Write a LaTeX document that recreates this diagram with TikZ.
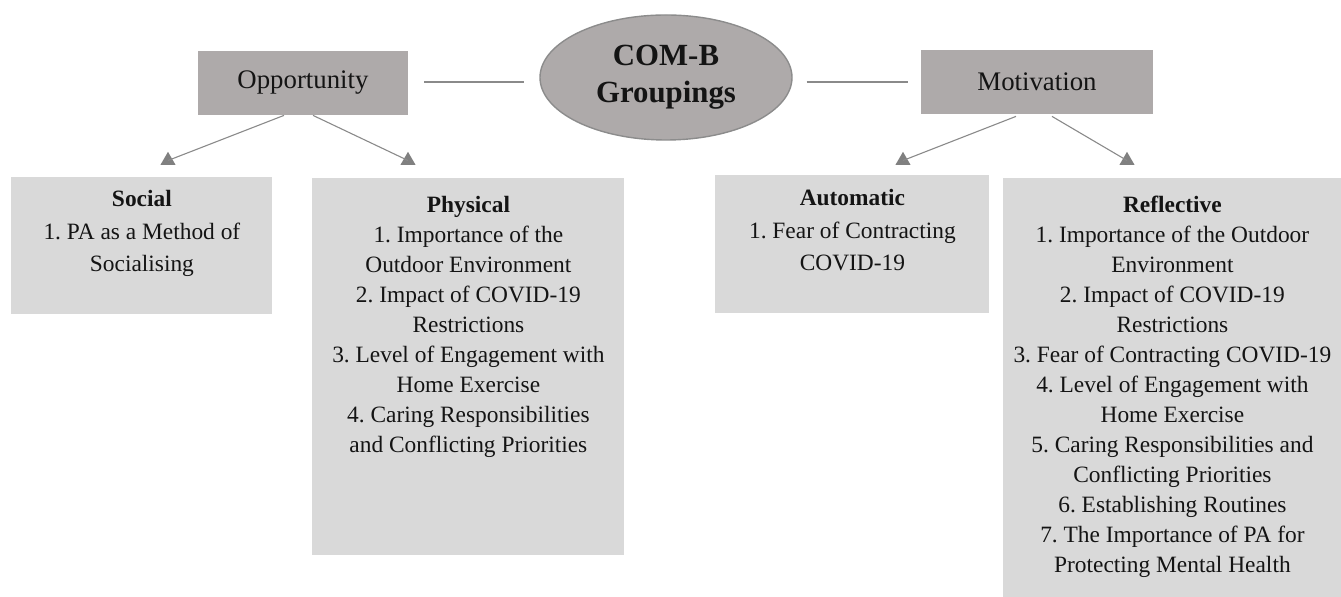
\documentclass[tikz,border=0pt]{standalone}
\usepackage{fontspec}
\setmainfont{Liberation Serif}
\frenchspacing
\usetikzlibrary{shapes.geometric}
\definecolor{darkbox}{HTML}{AEAAAA}
\definecolor{lightbox}{HTML}{D9D9D9}
\definecolor{linegray}{HTML}{8A8A8A}
\definecolor{tipgray}{HTML}{808080}
\definecolor{ellborder}{HTML}{8C8C8C}
\definecolor{txt}{HTML}{141414}
\begin{document}
\begin{tikzpicture}[x=0.5pt,y=-0.5pt,
 topbox/.style={rectangle, fill=darkbox, inner sep=0pt, font=\fontsize{13.4}{15}\selectfont, text=txt},
 hub/.style={ellipse, fill=darkbox, draw=ellborder, line width=0.7pt, inner sep=0pt,
   minimum width=126pt, minimum height=62.5pt, align=center,
   font=\fontsize{15.4}{18.5}\selectfont\bfseries, text=txt},
 subbox/.style={rectangle, fill=lightbox, inner sep=0pt, anchor=north west},
 subtext/.style={anchor=north, align=center, inner sep=0pt, font=\fontsize{11.7}{15}\selectfont\frenchspacing, text=txt},
 subtextloose/.style={subtext, font=\fontsize{11.7}{16.3}\selectfont\frenchspacing},
 link/.style={draw=linegray, line width=0.55pt},
 tip/.style={regular polygon, regular polygon sides=3, fill=tipgray, inner sep=0pt, minimum size=8.7pt},
]
\useasboundingbox (0,0) rectangle (1341,597);

% top level
\node[topbox, minimum width=105pt, minimum height=32pt] (opp) at (303,83) {Opportunity};
\node[topbox, minimum width=116pt, minimum height=32pt] (mot) at (1037,82) {Motivation};
\node[hub] (hub) at (666,77.5) {COM-B\\Groupings};

\draw[link, shorten <=8pt, shorten >=7.5pt] ([yshift=0.5pt]opp.east) -- ([yshift=0.5pt]opp.east -| hub.west);
\draw[link, shorten <=7pt, shorten >=6.5pt] (mot.west -| hub.east) -- (mot.west);

% sub boxes
\node[subbox, minimum width=130.5pt, minimum height=68.5pt] (social) at (11,177) {};
\node[subbox, minimum width=156pt, minimum height=188.5pt] (physical) at (312,178) {};
\node[subbox, minimum width=137pt, minimum height=69pt] (automatic) at (715,175) {};
\node[subbox, minimum width=169pt, minimum height=209.5pt] (reflective) at (1003,178) {};

\node[subtextloose] (socialtext) at ([yshift=-6.5pt]social.north)
  {\textbf{Social}\\1. PA as a Method of\\Socialising};
\node[subtext] (physicaltext) at ([yshift=-9pt]physical.north)
  {\textbf{Physical}\\1. Importance of the\\Outdoor Environment\\2. Impact of COVID-19\\Restrictions\\3. Level of Engagement with\\Home Exercise\\4. Caring Responsibilities\\and Conflicting Priorities};
\node[subtextloose] (automatictext) at ([yshift=-7pt]automatic.north)
  {\textbf{Automatic}\\1. Fear of Contracting\\COVID-19};
\node[subtext] (reflectivetext) at ([yshift=-9pt]reflective.north)
  {\textbf{Reflective}\\1. Importance of the Outdoor\\Environment\\2. Impact of COVID-19\\Restrictions\\3. Fear of Contracting COVID-19\\4. Level of Engagement with\\Home Exercise\\5. Caring Responsibilities and\\Conflicting Priorities\\6. Establishing Routines\\7. The Importance of PA for\\Protecting Mental Health};

% arrow heads
\node[tip] (t1) at (168,160.5) {};
\node[tip] (t2) at (408,160.5) {};
\node[tip] (t3) at (903,160.5) {};
\node[tip] (t4) at (1127,160.5) {};

% connectors
\coordinate (o1) at ([xshift=-9.5pt]opp.south);
\coordinate (o2) at ([xshift=5pt]opp.south);
\coordinate (m1) at ([xshift=-10.5pt,yshift=-1pt]mot.south);
\coordinate (m2) at ([xshift=7.5pt,yshift=-1pt]mot.south);
\draw[link] (o1) -- (t1.center);
\draw[link] (o2) -- (t2.center);
\draw[link] (m1) -- (t3.center);
\draw[link] (m2) -- (t4.center);
\end{tikzpicture}
\end{document}
